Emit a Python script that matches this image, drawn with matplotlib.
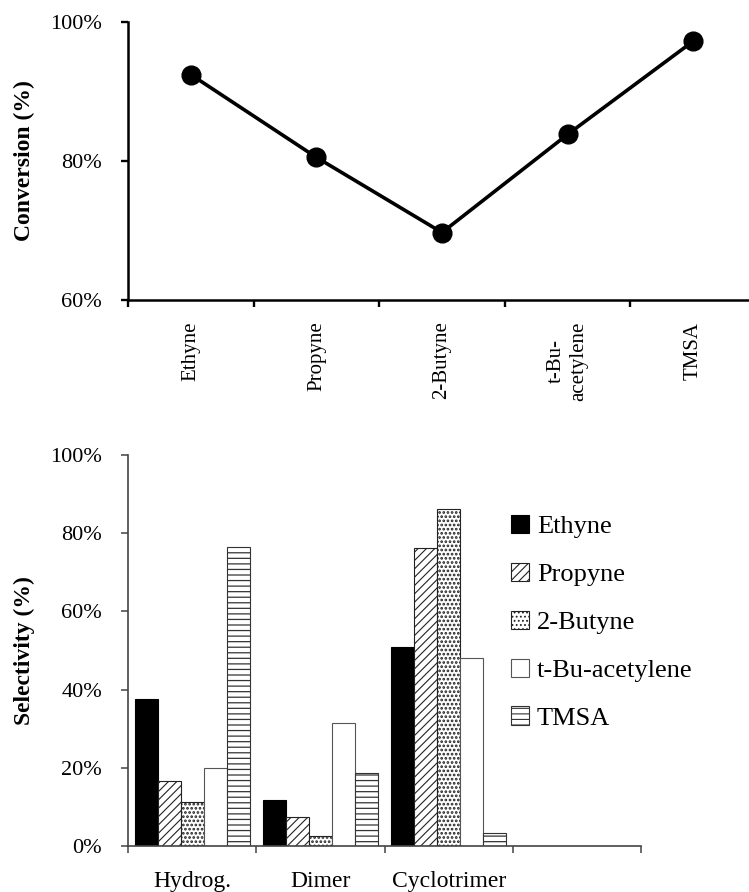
import matplotlib
matplotlib.use("Agg")
import matplotlib.pyplot as plt
import numpy as np

plt.rcParams['font.family'] = ['Liberation Serif', 'DejaVu Serif']
plt.rcParams['hatch.linewidth'] = 0.8

# Conversion per alkyne
alkynes = ['Ethyne', 'Propyne', '2-Butyne', 't-Bu-\nacetylene', 'TMSA']
conversion = [92.4, 80.5, 69.7, 83.8, 97.2]

# Selectivity per product type and alkyne
products = ['Hydrog.', 'Dimer', 'Cyclotrimer', '']
series_names = ['Ethyne', 'Propyne', '2-Butyne', 't-Bu-acetylene', 'TMSA']
sel_ethyne = [37.5, 11.7, 50.8]
sel_propyne = [16.5, 7.3, 76.1]
sel_butyne = [11.2, 2.6, 86.1]
sel_tbu = [19.9, 31.5, 48.2]
sel_tmsa = [76.4, 18.6, 3.2]

W, H = 749, 892
fig = plt.figure(figsize=(W / 100, H / 100), dpi=100)


def px_axes(left, top, right, bottom):
    return fig.add_axes([left / W, 1 - bottom / H, (right - left) / W, (bottom - top) / H])


# ---------- Conversion line chart ----------
ax1 = px_axes(128, 21.7, 128 + 5 * 125.6, 300)
x1 = np.arange(len(alkynes))
ax1.plot(x1, conversion, color='black', lw=2.6, marker='o', ms=13.5,
         markerfacecolor='black', markeredgecolor='black', clip_on=False)
ax1.set_xlim(-0.5, len(alkynes) - 0.5)
ax1.set_ylim(60, 100)
ax1.set_yticks([60, 80, 100])
ax1.set_yticklabels(['60%', '80%', '100%'], fontsize=16)
ax1.set_xticks(np.arange(len(alkynes) + 1) - 0.5)
ax1.set_xticklabels([])
ax1.set_xticks(x1, minor=True)
ax1.set_xticklabels(alkynes, minor=True, rotation=90, fontsize=15,
                    va='top', ha='center', multialignment='center')
ax1.tick_params(axis='x', which='minor', length=0, pad=15.5)
ax1.tick_params(axis='x', which='major', length=5, width=1.7, direction='out')
ax1.tick_params(axis='y', length=5, width=1.7, direction='out', pad=14)
for s in ['top', 'right']:
    ax1.spines[s].set_visible(False)
for s in ['left', 'bottom']:
    ax1.spines[s].set_linewidth(1.8)
ax1.set_ylabel('Conversion (%)', fontsize=17, fontweight='bold')
ax1.yaxis.label.set_verticalalignment('center')
ax1.yaxis.set_label_coords((24 - 128) / (5 * 125.6), 0.5)

# ---------- Selectivity bar chart ----------
ax2 = px_axes(128.3, 455, 641, 846)
series = [sel_ethyne, sel_propyne, sel_butyne, sel_tbu, sel_tmsa]
faces = ['black', 'white', 'white', 'white', 'white']
hatches = [None, '////', '....', None, '---']
hatch_lw = [0.8, 0.8, 1.3, 0.8, 0.9]
edges = ['black', '#222222', '#222222', '#555555', '#333333']
bw = 0.18
xg = np.arange(3)
for i, (vals, fc, hc, ec) in enumerate(zip(series, faces, hatches, edges)):
    with plt.rc_context({'hatch.linewidth': hatch_lw[i]}):
        ax2.bar(xg + (i - 2) * bw, vals, width=bw, color=fc, hatch=hc,
                edgecolor=ec, linewidth=0.8, label=series_names[i])
ax2.set_xlim(-0.5, len(products) - 0.5)
ax2.set_ylim(0, 100)
ax2.set_yticks(np.arange(0, 101, 20))
ax2.set_yticklabels([f'{v}%' for v in range(0, 101, 20)], fontsize=16)
ax2.set_xticks(np.arange(len(products) + 1) - 0.5)
ax2.set_xticklabels([])
ax2.set_xticks(np.arange(len(products)), minor=True)
ax2.set_xticklabels(products, minor=True, fontsize=17)
ax2.tick_params(axis='x', which='minor', length=0, pad=18)
ax2.tick_params(axis='x', which='major', length=5, width=1.1, color='#444444', direction='out')
ax2.tick_params(axis='y', length=5, width=1.1, color='#444444', direction='out', pad=14)
for s in ['top', 'right']:
    ax2.spines[s].set_visible(False)
for s in ['left', 'bottom']:
    ax2.spines[s].set_linewidth(1.2)
    ax2.spines[s].set_color('#444444')
ax2.set_ylabel('Selectivity (%)', fontsize=17, fontweight='bold')
ax2.yaxis.label.set_verticalalignment('center')
ax2.yaxis.set_label_coords((24 - 128.3) / (641 - 128.3), 0.5)

handles, labels = ax2.get_legend_handles_labels()
fig.legend(handles, labels, loc='upper left', bbox_to_anchor=(511 / W, 1 - 515 / H),
           frameon=False, fontsize=19, handlelength=0.68, handleheight=0.68,
           handletextpad=0.3, labelspacing=0.93, borderpad=0, borderaxespad=0)

fig.savefig('out.png', dpi=100)
